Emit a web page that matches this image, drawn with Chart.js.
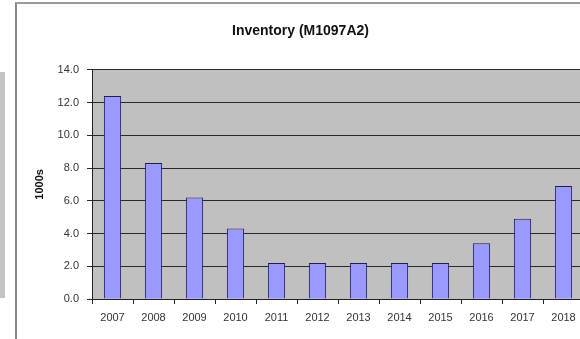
<!DOCTYPE html>
<html>
<head>
<meta charset="utf-8">
<script src="https://cdn.jsdelivr.net/npm/chart.js@4.4.1/dist/chart.umd.min.js"></script>
<style>
  html, body { margin: 0; padding: 0; background: #fff; overflow: hidden; }
  #page { position: relative; width: 580px; height: 339px; overflow: hidden; }
  #frame { position: absolute; left: 15px; top: 2px; width: 600px; height: 400px;
           border-left: 2px solid #8a8a8a; border-top: 2px solid #9a9a9a; }
  #neighbour { position: absolute; left: 0; top: 72px; width: 5px; height: 226px; background: #c4c4c4; }
  #wrap { position: absolute; left: 17px; top: 4px; width: 575px; height: 335px; }
</style>
</head>
<body>
<div id="page">
  <div id="neighbour"></div>
  <div id="frame"></div>
  <div id="wrap"><canvas id="inv"></canvas></div>
</div>
<script>
const years = ['2007', '2008', '2009', '2010', '2011', '2012', '2013', '2014', '2015', '2016', '2017', '2018'];
const inventory = [12.4, 8.3, 6.2, 4.3, 2.2, 2.2, 2.2, 2.2, 2.2, 3.4, 4.9, 6.9];
const yMax = 14;
const yStep = 2;

const FONT = 'Liberation Sans, Arial, sans-serif';

// grey plot background like the old spreadsheet chart
const plotBg = {
  id: 'plotBg',
  beforeDraw(chart) {
    const { ctx, chartArea: a } = chart;
    ctx.save();
    ctx.fillStyle = '#c0c0c0';
    ctx.fillRect(a.left, a.top, a.right - a.left, a.bottom - a.top);
    ctx.restore();
  }
};

new Chart(document.getElementById('inv'), {
  type: 'bar',
  data: {
    labels: years,
    datasets: [{
      label: 'Inventory',
      data: inventory,
      backgroundColor: '#9999ff',
      borderColor: '#1a1a6e',
      borderWidth: 1,
      barPercentage: 0.42,
      categoryPercentage: 1
    }]
  },
  options: {
    responsive: true,
    maintainAspectRatio: false,
    animation: false,
    layout: { padding: { top: 0, left: 0, right: 8, bottom: 0 } },
    plugins: {
      legend: { display: false },
      tooltip: { enabled: false },
      title: {
        display: true,
        text: 'Inventory (M1097A2)',
        color: '#111',
        font: { family: FONT, size: 14, weight: 'bold' },
        padding: { top: 19, bottom: 30 }
      }
    },
    scales: {
      x: {
        offset: true,
        grid: { offset: true, drawOnChartArea: false, color: '#222', tickLength: 5 },
        border: { color: '#222', width: 1 },
        ticks: { color: '#333', font: { family: FONT, size: 11 }, padding: 7, maxRotation: 0 },
        afterFit(axis) { axis.height = 40; }
      },
      y: {
        min: 0,
        max: yMax,
        ticks: {
          stepSize: yStep,
          color: '#333',
          font: { family: FONT, size: 11 },
          padding: 8,
          callback: v => v.toFixed(1)
        },
        grid: { color: '#2a2a2a', tickLength: 5 },
        border: { color: '#222', width: 1 },
        title: {
          display: true,
          text: '1000s',
          color: '#111',
          font: { family: FONT, size: 11, weight: 'bold' },
          padding: { top: 16, bottom: 0 }
        },
        afterFit(axis) { axis.width = 75; }
      }
    }
  },
  plugins: [plotBg]
});
</script>
</body>
</html>
